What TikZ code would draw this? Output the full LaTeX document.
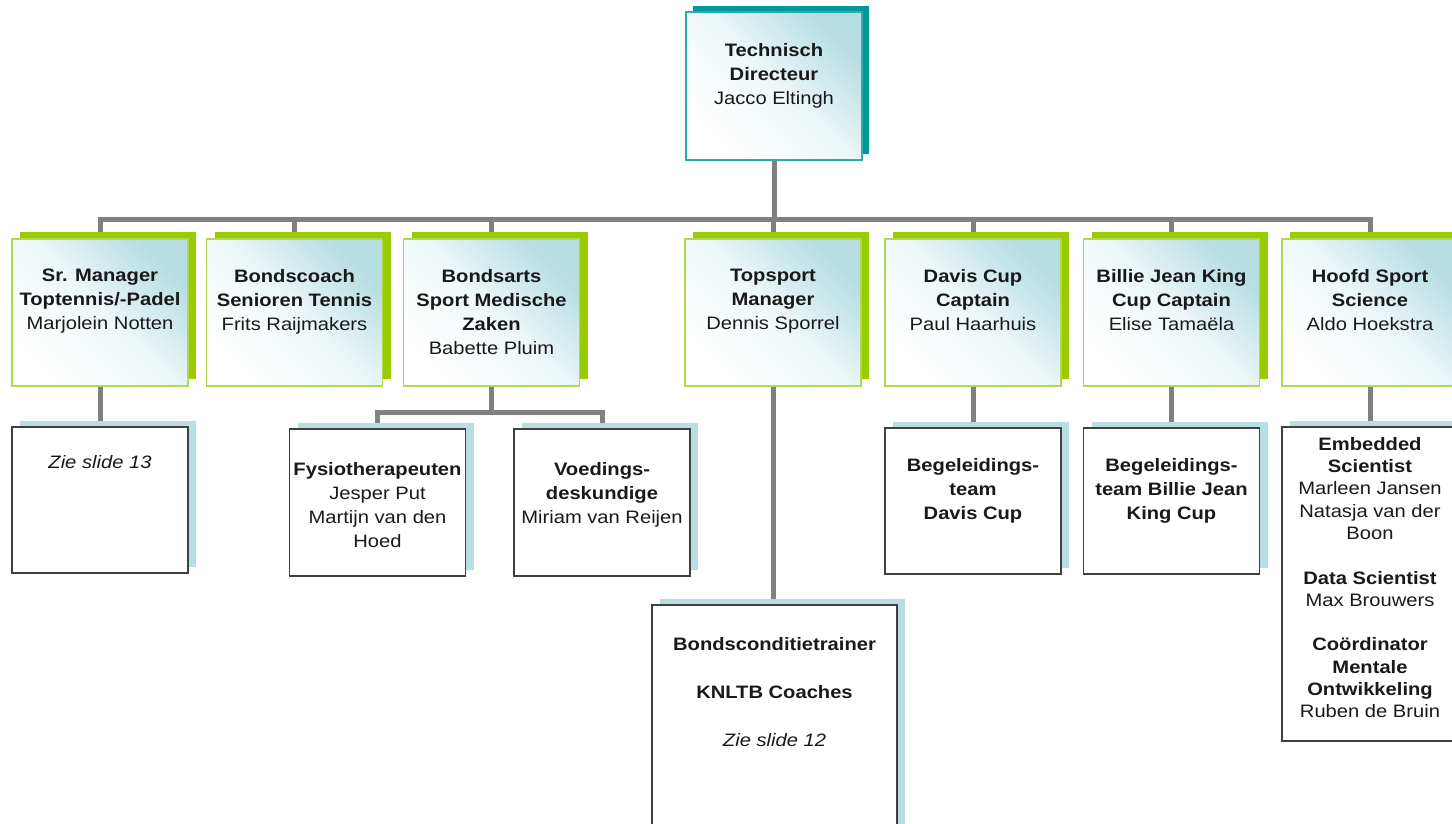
\documentclass[tikz,border=0pt]{standalone}
\usepackage{fontspec}
\setmainfont[FakeStretch=1.12]{Liberation Sans}
\usetikzlibrary{positioning,shadows,backgrounds}
\definecolor{tealshadow}{RGB}{0,153,153}
\definecolor{tealline}{RGB}{51,170,170}
\definecolor{shadeteal}{RGB}{181,221,226}
\definecolor{greenshadow}{RGB}{153,204,0}
\definecolor{greenline}{RGB}{178,216,80}
\definecolor{blueshadow}{RGB}{183,223,227}
\definecolor{boxgray}{RGB}{64,64,64}
\definecolor{linegray}{RGB}{128,128,128}
\tikzset{
    conn/.style={
      draw=linegray,
      line width=5pt,
    },
    headbox/.style={
      rectangle,
      outer sep=0pt,
      line width=1.2pt,
      minimum width=176pt,
      minimum height=147pt,
      bottom color=white,
      top color=shadeteal,
      middle color=shadeteal!22!white,
      shading angle=-45,
    },
    topbox/.style={
      headbox,
      draw=tealline,
      minimum height=148pt,
      general shadow={fill=tealshadow, shadow xshift=7pt, shadow yshift=6pt},
    },
    mgrbox/.style={
      headbox,
      draw=greenline,
      general shadow={fill=greenshadow, shadow xshift=8pt, shadow yshift=7pt},
    },
    subbox/.style={
      rectangle,
      outer sep=0pt,
      draw=boxgray,
      fill=white,
      line width=1.2pt,
      minimum width=176pt,
      minimum height=146pt,
      general shadow={fill=blueshadow, shadow xshift=8pt, shadow yshift=6pt},
    },
    txt/.style={
      inner sep=0pt,
      align=center,
      text=black!90,
      font=\fontsize{18}{24}\selectfont,
    },
}

\begin{document}
\begin{tikzpicture}[x=1pt,y=-1pt]
  \path[use as bounding box] (0,0) rectangle (1452,824);
  \clip (0,0) rectangle (1452,824);

  % director
  \node[topbox] (TD) at (774,86) {};
  \node[txt, below=31pt of TD.north] (TD-t)
  {
    \textbf{Technisch}\\
    \textbf{Directeur}\\
    Jacco Eltingh
  };

  % managers
  \node[mgrbox] (SM) at (100,312.5) {};
  \node[txt, below=30pt of SM.north] (SM-t)
  {
    \textbf{Sr. Manager}\\
    \textbf{Toptennis/-Padel}\\
    Marjolein Notten
  };

  \node[mgrbox] (BC) at (294.5,312.5) {};
  \node[txt, below=30pt of BC.north] (BC-t)
  {
    \textbf{Bondscoach}\\
    \textbf{Senioren Tennis}\\
    Frits Raijmakers
  };

  \node[mgrbox] (BA) at (491.5,312.5) {};
  \node[txt, below=30pt of BA.north] (BA-t)
  {
    \textbf{Bondsarts}\\
    \textbf{Sport Medische}\\
    \textbf{Zaken}\\
    Babette Pluim
  };

  \node[mgrbox] (TM) at (773,312.5) {};
  \node[txt, below=30pt of TM.north] (TM-t)
  {
    \textbf{Topsport}\\
    \textbf{Manager}\\
    Dennis Sporrel
  };

  \node[mgrbox] (DC) at (973,312.5) {};
  \node[txt, below=30pt of DC.north] (DC-t)
  {
    \textbf{Davis Cup}\\
    \textbf{Captain}\\
    Paul Haarhuis
  };

  \node[mgrbox] (BJ) at (1171.5,312.5) {};
  \node[txt, below=30pt of BJ.north] (BJ-t)
  {
    \textbf{Billie Jean King}\\
    \textbf{Cup Captain}\\
    Elise Tamaëla
  };

  \node[mgrbox] (HS) at (1370,312.5) {};
  \node[txt, below=30pt of HS.north] (HS-t)
  {
    \textbf{Hoofd Sport}\\
    \textbf{Science}\\
    Aldo Hoekstra
  };

  % teams
  \node[subbox] (Z13) at (100,500) {};
  \node[txt, below=28pt of Z13.north] (Z13-t) {\textit{Zie slide 13}};

  \node[subbox, minimum height=147pt] (FY) at (377.5,502.5) {};
  \node[txt, below=33pt of FY.north] (FY-t)
  {
    \textbf{Fysiotherapeuten}\\
    Jesper Put\\
    Martijn van den\\
    Hoed
  };

  \node[subbox, minimum height=147pt] (VD) at (602,502.5) {};
  \node[txt, below=33pt of VD.north] (VD-t)
  {
    \textbf{Voedings-}\\
    \textbf{deskundige}\\
    Miriam van Reijen
  };

  \node[subbox, minimum width=245pt, minimum height=240pt] (BT) at (774.5,725) {};
  \node[txt, below=32pt of BT.north] (BT-t)
  {
    \textbf{Bondsconditietrainer}\\[24pt]
    \textbf{KNLTB Coaches}\\[24pt]
    \textit{Zie slide 12}
  };

  \node[subbox] (DCt) at (973,501) {};
  \node[txt, below=30pt of DCt.north] (DCt-t)
  {
    \textbf{Begeleidings-}\\
    \textbf{team}\\
    \textbf{Davis Cup}
  };

  \node[subbox] (BJt) at (1171.5,501) {};
  \node[txt, below=30pt of BJt.north] (BJt-t)
  {
    \textbf{Begeleidings-}\\
    \textbf{team Billie Jean}\\
    \textbf{King Cup}
  };

  \node[subbox, minimum height=314pt] (HSt) at (1370,584) {};
  \node[txt, font=\fontsize{18}{22.3}\selectfont, below=10pt of HSt.north] (HSt-t)
  {
    \textbf{Embedded}\\
    \textbf{Scientist}\\
    Marleen Jansen\\
    Natasja van der\\
    Boon\\[22.3pt]
    \textbf{Data Scientist}\\
    Max Brouwers\\[22.3pt]
    \textbf{Coördinator}\\
    \textbf{Mentale}\\
    \textbf{Ontwikkeling}\\
    Ruben de Bruin
  };

  % connectors
  \begin{scope}[on background layer]
    \draw[conn] (TD.south) -- ++(0,59) coordinate (bus) -| (SM.north);
    \draw[conn] (bus) -| (BC.north);
    \draw[conn] (bus) -| (BA.north);
    \draw[conn] (bus) -| (TM.north);
    \draw[conn] (bus) -| (DC.north);
    \draw[conn] (bus) -| (BJ.north);
    \draw[conn] (bus) -| (HS.north);

    \draw[conn] (SM.south) -- (SM.south |- Z13.north);
    \draw[conn] (BA.south) -- ++(0,26) coordinate (split) -| (FY.north);
    \draw[conn] (split) -| (VD.north);
    \draw[conn] (TM.south) -- (TM.south |- BT.north);
    \draw[conn] (DC.south) -- (DCt.north);
    \draw[conn] (BJ.south) -- (BJt.north);
    \draw[conn] (HS.south) -- (HSt.north);
  \end{scope}

\end{tikzpicture}
\end{document}
